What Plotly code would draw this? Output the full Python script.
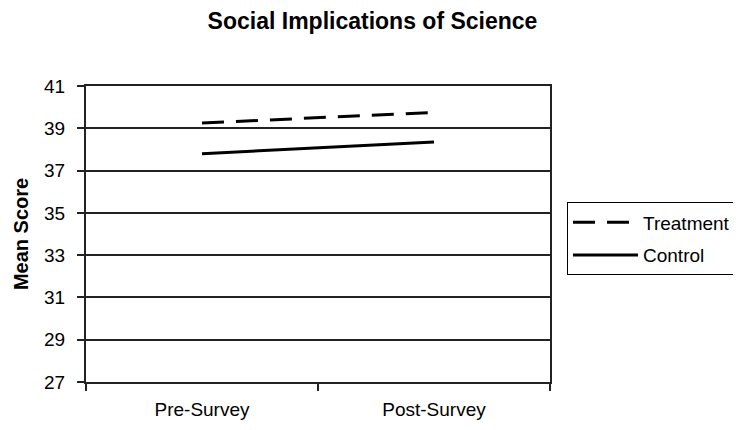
import plotly.graph_objects as go

categories = ["Pre-Survey", "Post-Survey"]
treatment = [39.25, 39.75]
control = [37.8, 38.35]
y_ticks = [27, 29, 31, 33, 35, 37, 39, 41]

fig = go.Figure()
fig.add_trace(go.Scatter(x=categories, y=treatment, mode="lines", name="Treatment",
                         legendgroup="t",
                         line=dict(color="black", width=3, dash="22px,12px")))
fig.add_trace(go.Scatter(x=categories, y=control, mode="lines", name="Control",
                         legendgroup="c",
                         line=dict(color="black", width=3)))

font = dict(family="Arial, Liberation Sans, sans-serif", size=19, color="black")

# page body has an 8px margin; figure coordinates are offset accordingly
fig.update_layout(
    width=741, height=430,
    margin=dict(l=76, r=191, t=78, b=56),
    paper_bgcolor="white", plot_bgcolor="white",
    font=font,
    title=dict(text="<b>Social Implications of Science</b>", x=364.5 / 741, xanchor="center",
               y=1 - 13 / 430, yanchor="middle", font=dict(size=23)),
    showlegend=True,
    legend=dict(x=1.036, xanchor="left", y=0.608, yanchor="top",
                bordercolor="black", borderwidth=1.3, bgcolor="white",
                traceorder="grouped", tracegroupgap=5, font=dict(size=19),
                itemwidth=65),
    xaxis=dict(type="category", range=[-0.5, 1.5], showline=True, linecolor="#222", linewidth=2,
               mirror=True, ticks="outside", tickson="boundaries", ticklen=7, tickcolor="#222",
               tickwidth=1.5, showgrid=False, ticklabelstandoff=9),
    yaxis=dict(range=[27, 41], tickvals=y_ticks, showline=True, linecolor="#222", linewidth=2,
               mirror=True, ticks="outside", ticklen=7, tickcolor="#222", tickwidth=1.5,
               showgrid=True, gridcolor="#222", gridwidth=1.5, zeroline=False,
               title=dict(text="<b>Mean Score</b>", standoff=10, font=dict(size=20)),
               ticklabelstandoff=8),
)

fig.write_html("out.html")
